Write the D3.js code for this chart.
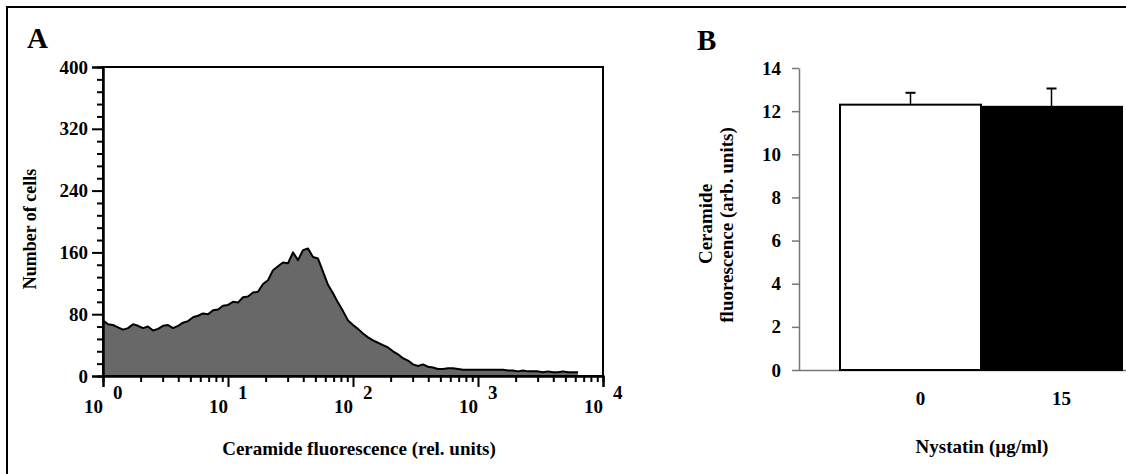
<!DOCTYPE html>
<html>
<head>
<meta charset="utf-8">
<script src="https://cdn.jsdelivr.net/npm/d3@7/dist/d3.min.js"></script>
<style>
  html, body { margin: 0; padding: 0; background: #fff; }
  svg { display: block; }
  text { font-family: "Liberation Serif", "Times New Roman", serif; font-weight: bold; fill: #000; }
</style>
</head>
<body>
<script>
// ---------- DATA ----------
// Panel A: flow cytometry histogram (log-spaced bins, start 10^0, step 0.04 decade)
const histStartLog = 0;
const histStepLog = 0.04;
const cells = [72,67,66,63,60,62,67,65,62,64,
               59,61,65,66,62,65,69,71,76,78,
               81,80,85,86,91,92,96,95,102,103,
               108,109,119,124,137,142,147,146,160,150,
               163,165,154,152,135,118,107,95,84,72,
               66,61,55,50,46,43,40,37,32,28,
               23,20,15,13,15,12,11,9,9,10,
               10,9,8,8,8,8,8,8,8,8,
               8,7,7,6,7,6,6,6,5,6,
               5,5,6,5,5,5];
const yTicksA = [0, 80, 160, 240, 320, 400];
const xDecadesA = [0, 1, 2, 3, 4];

// Panel B: bar chart
const categoriesB = ["0", "15"];
const valuesB = [12.3, 12.2];
const errorsB = [0.55, 0.85];
const yTicksB = [0, 2, 4, 6, 8, 10, 12, 14];

// ---------- LAYOUT ----------
const W = 1126, H = 474;
const svg = d3.select("body").append("svg").attr("width", W).attr("height", H);

// outer frame (left + top visible)
svg.append("path").attr("d", `M7,${H} V7 H${W}`).attr("fill", "none").attr("stroke", "#000").attr("stroke-width", 2);

// ===== Panel A =====
const A = { left: 103, right: 603, top: 67, bottom: 376 };
const xA = d3.scaleLog().domain([1, 10000]).range([A.left, A.right]);
const yA = d3.scaleLinear().domain([0, 400]).range([A.bottom, A.top]);

const histData = cells.map((c, i) => ({ x: Math.pow(10, histStartLog + i * histStepLog), y: c }));

const gA = svg.append("g");
gA.append("path").datum(histData)
  .attr("fill", "#686868")
  .attr("d", d3.area().x(d => xA(d.x)).y0(yA(0)).y1(d => yA(d.y)));
gA.append("path").datum(histData)
  .attr("fill", "none").attr("stroke", "#000").attr("stroke-width", 2).attr("stroke-linejoin", "round")
  .attr("d", d3.line().x(d => xA(d.x)).y(d => yA(d.y)));

// frame of plot A
gA.append("rect").attr("x", A.left).attr("y", A.top).attr("width", A.right - A.left).attr("height", A.bottom - A.top)
  .attr("fill", "none").attr("stroke", "#000").attr("stroke-width", 2);

// y axis A
const minorY = d3.range(0, 401, 16).filter(v => v % 80 !== 0);
const yAxisMinor = gA.append("g").attr("transform", `translate(${A.left},0)`)
  .call(d3.axisLeft(yA).tickValues(minorY).tickSize(6).tickFormat(""));
const yAxisMajor = gA.append("g").attr("transform", `translate(${A.left},0)`)
  .call(d3.axisLeft(yA).tickValues(yTicksA).tickSize(11).tickPadding(4));
[yAxisMinor, yAxisMajor].forEach(g => {
  g.select(".domain").attr("stroke-width", 2);
  g.selectAll(".tick line").attr("stroke-width", 2);
});
yAxisMajor.selectAll(".tick text").attr("font-size", 19).style("font-family", "Liberation Serif").style("font-weight", "bold");

// x axis A (log)
const minorX = [];
for (let d = 0; d < 4; d++) for (let m = 2; m <= 9; m++) minorX.push(m * Math.pow(10, d));
const majorX = xDecadesA.map(e => Math.pow(10, e));
const xAxisMinor = gA.append("g").attr("transform", `translate(0,${A.bottom})`)
  .call(d3.axisBottom(xA).tickValues(minorX).tickSize(6).tickFormat(""));
const xAxisMajor = gA.append("g").attr("transform", `translate(0,${A.bottom})`)
  .call(d3.axisBottom(xA).tickValues(majorX).tickSize(11).tickFormat(""));
[xAxisMinor, xAxisMajor].forEach(g => {
  g.select(".domain").attr("stroke-width", 2);
  g.selectAll(".tick line").attr("stroke-width", 2);
});
const xl = gA.append("g").selectAll("g").data(xDecadesA).join("g")
  .attr("transform", e => `translate(${xA(Math.pow(10, e))},0)`);
xl.append("text").attr("x", 0).attr("y", 413).attr("text-anchor", "end").attr("font-size", 19).text("10");
xl.append("text").attr("x", 10).attr("y", 399).attr("text-anchor", "start").attr("font-size", 19).text(e => e);

// titles A
svg.append("text").attr("x", 27).attr("y", 48).attr("font-size", 29).text("A");
svg.append("text").attr("transform", "translate(36,229) rotate(-90)").attr("text-anchor", "middle")
  .attr("font-size", 18).text("Number of cells");
svg.append("text").attr("x", 359).attr("y", 455).attr("text-anchor", "middle").attr("font-size", 19)
  .text("Ceramide fluorescence (rel. units)");

// ===== Panel B =====
const B = { left: 799, right: W, top: 68, bottom: 370, barStart: 840, barEnd: 1122 };
const yB = d3.scaleLinear().domain([0, 14]).range([B.bottom, B.top]);
const xB = d3.scaleBand().domain(categoriesB).range([B.barStart, B.barEnd]).padding(0);
const gB = svg.append("g");

// x baseline
gB.append("line").attr("x1", B.left).attr("x2", B.right).attr("y1", B.bottom + 0.5).attr("y2", B.bottom + 0.5)
  .attr("stroke", "#777").attr("stroke-width", 1.5);

// bars
const barFill = ["#fff", "#000"];
gB.selectAll("rect.bar").data(categoriesB).join("rect").attr("class", "bar")
  .attr("x", c => xB(c)).attr("width", xB.bandwidth())
  .attr("y", (c, i) => yB(valuesB[i])).attr("height", (c, i) => yB(0) - yB(valuesB[i]))
  .attr("fill", (c, i) => barFill[i]).attr("stroke", "#000").attr("stroke-width", 2);

// error bars
const eb = gB.selectAll("g.err").data(categoriesB).join("g").attr("class", "err");
eb.append("line")
  .attr("x1", c => xB(c) + xB.bandwidth() / 2).attr("x2", c => xB(c) + xB.bandwidth() / 2)
  .attr("y1", (c, i) => yB(valuesB[i])).attr("y2", (c, i) => yB(valuesB[i] + errorsB[i]))
  .attr("stroke", "#000").attr("stroke-width", 1.5);
eb.append("line")
  .attr("x1", c => xB(c) + xB.bandwidth() / 2 - 5).attr("x2", c => xB(c) + xB.bandwidth() / 2 + 5)
  .attr("y1", (c, i) => yB(valuesB[i] + errorsB[i])).attr("y2", (c, i) => yB(valuesB[i] + errorsB[i]))
  .attr("stroke", "#000").attr("stroke-width", 2);

// y axis B
const yAxisB = gB.append("g").attr("transform", `translate(${B.left},0)`)
  .call(d3.axisLeft(yB).tickValues(yTicksB).tickSize(7).tickPadding(11).tickSizeOuter(0));
yAxisB.select(".domain").attr("stroke", "#777").attr("stroke-width", 1.5);
yAxisB.selectAll(".tick line").attr("stroke", "#777").attr("stroke-width", 1.5);
yAxisB.selectAll(".tick text").attr("font-size", 19).style("font-family", "Liberation Serif").style("font-weight", "bold");

// category labels
gB.selectAll("text.cat").data(categoriesB).join("text").attr("class", "cat")
  .attr("x", c => xB(c) + xB.bandwidth() / 2 + 10).attr("y", 405)
  .attr("text-anchor", "middle").attr("font-size", 19).text(c => c);

// titles B
svg.append("text").attr("x", 697).attr("y", 50).attr("font-size", 29).text("B");
svg.append("text").attr("transform", "translate(712,224) rotate(-90)").attr("text-anchor", "middle")
  .attr("font-size", 19).text("Ceramide");
svg.append("text").attr("transform", "translate(733,225) rotate(-90)").attr("text-anchor", "middle")
  .attr("font-size", 19).text("fluorescence (arb. units)");
svg.append("text").attr("x", 982).attr("y", 453).attr("text-anchor", "middle").attr("font-size", 19)
  .text("Nystatin (µg/ml)");
</script>
</body>
</html>
